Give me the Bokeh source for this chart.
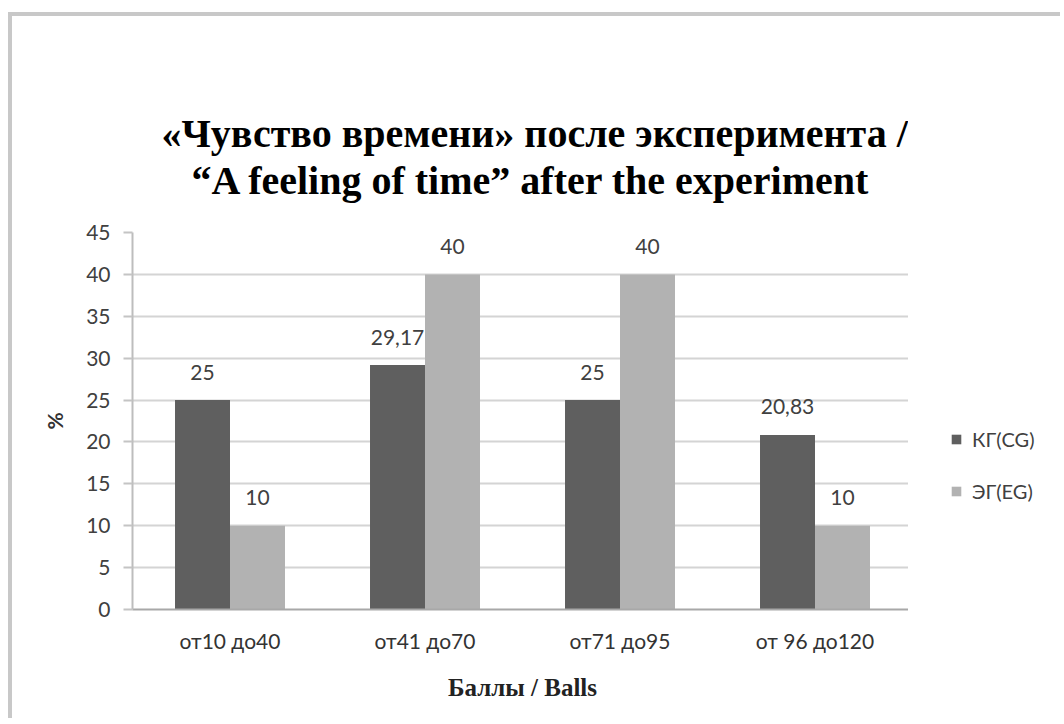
from bokeh.plotting import figure
from bokeh.layouts import row
from bokeh.models import FactorRange, FixedTicker, Legend, LegendItem, ColumnDataSource, Title, Range1d
from bokeh.transform import dodge
from bokeh.core.properties import value
from bokeh.embed import file_html
from bokeh.resources import INLINE

categories = ["от10 до40", "от41 до70", "от71 до95", "от 96 до120"]
cg_values = [25, 29.17, 25, 20.83]
eg_values = [10, 40, 40, 10]
cg_labels = ["25", "29,17", "25", "20,83"]
eg_labels = ["10", "40", "40", "10"]
y_ticks = [0, 5, 10, 15, 20, 25, 30, 35, 40, 45]
series_names = ["КГ(CG)", "ЭГ(EG)"]
title_lines = ["«Чувство времени» после эксперимента /",
               "“A feeling of time” after the experiment"]

src = ColumnDataSource(dict(cat=categories, cg=cg_values, eg=eg_values,
                            cgl=cg_labels, egl=eg_labels))

dark = "#5f5f5f"
light = "#b2b2b2"
border_css = "4px solid #c8c8c8"

H = 706
p = figure(x_range=FactorRange(*categories), y_range=(0, 45),
           width=900, height=H, output_backend="svg", toolbar_location=None,
           min_border_left=120, min_border_right=0, min_border_top=216,
           min_border_bottom=113)
p.styles = {"border-left": border_css, "border-top": border_css}
p.outline_line_color = None
p.background_fill_color = "white"
p.border_fill_color = "white"

bw = 0.282
r1 = p.vbar(x=dodge("cat", -bw / 2, range=p.x_range), top="cg", width=bw,
            source=src, fill_color=dark, line_color=None)
r2 = p.vbar(x=dodge("cat", bw / 2, range=p.x_range), top="eg", width=bw,
            source=src, fill_color=light, line_color=None)

lbl_kw = dict(source=src, text_font=value("Lato"), text_font_size="21px",
              text_color="#404040", text_align="center", text_baseline="middle",
              y_offset=-28)
p.text(x=dodge("cat", -bw / 2, range=p.x_range), y="cg", text="cgl", **lbl_kw)
p.text(x=dodge("cat", bw / 2, range=p.x_range), y="eg", text="egl", **lbl_kw)

# second line indented (non-breaking spaces) so the two lines sit centred on each other
p.title = Title(text=title_lines[0] + "\n" + "\u00a0\u00a0\u00a0" + title_lines[1],
                align="left", offset=29, text_font="Liberation Serif", text_font_style="bold",
                text_font_size="40px", text_color="black", standoff=59,
                text_line_height=1.05)

p.yaxis.ticker = FixedTicker(ticks=y_ticks)
p.yaxis.major_tick_out = 9
p.yaxis.major_tick_in = 0
p.yaxis.minor_tick_line_color = None
p.yaxis.major_tick_line_color = "#c4c4c4"
p.yaxis.major_tick_line_width = 2
p.yaxis.axis_line_color = "#bdbdbd"
p.yaxis.axis_line_width = 2
p.yaxis.major_label_text_font = "Lato"
p.yaxis.major_label_text_font_size = "21px"
p.yaxis.major_label_text_color = "#404040"
p.yaxis.major_label_standoff = 13
p.yaxis.axis_label = "%"
p.yaxis.axis_label_text_font = "Lato"
p.yaxis.axis_label_text_font_style = "bold"
p.yaxis.axis_label_text_font_size = "21px"
p.yaxis.axis_label_text_color = "#333333"
p.yaxis.axis_label_standoff = 16

p.xaxis.axis_line_color = "#a8a8a8"
p.xaxis.axis_line_width = 2
p.xaxis.major_tick_line_color = None
p.xaxis.minor_tick_line_color = None
p.xaxis.major_label_text_font = "Lato"
p.xaxis.major_label_text_font_size = "21px"
p.xaxis.major_label_text_color = "#333333"
p.xaxis.major_label_standoff = 12
p.xaxis.axis_label = "Баллы / Balls"
p.xaxis.axis_label_text_font = "Liberation Serif"
p.xaxis.axis_label_text_font_style = "bold"
p.xaxis.axis_label_text_font_size = "25px"
p.xaxis.axis_label_text_color = "#222222"
p.xaxis.axis_label_standoff = 18

p.xgrid.grid_line_color = None
p.ygrid.ticker = FixedTicker(ticks=y_ticks)
p.ygrid.grid_line_color = "#d4d4d4"
p.ygrid.grid_line_width = 2

# Legend lives in a narrow side canvas to the right of the plot area
p2 = figure(width=152, height=H, output_backend="svg", toolbar_location=None,
            x_range=Range1d(0, 1), y_range=Range1d(0, 1),
            x_axis_location=None, y_axis_location=None,
            min_border_left=0, min_border_right=0, min_border_top=0, min_border_bottom=0)
p2.styles = {"border-top": border_css}
p2.outline_line_color = None
p2.grid.visible = False
p2.background_fill_color = "white"
p2.border_fill_color = "white"
# legend proxies: same data, lying outside this canvas' visible range
k1 = p2.vbar(x="cg", top="cg", width=0.1, source=src, fill_color=dark, line_color=None)
k2 = p2.vbar(x="eg", top="eg", width=0.1, source=src, fill_color=light, line_color=None)

legend = Legend(items=[LegendItem(label=series_names[0], renderers=[k1]),
                       LegendItem(label=series_names[1], renderers=[k2])],
                location=(42, 106), border_line_color=None,
                background_fill_alpha=0, padding=0, margin=0,
                glyph_width=12, glyph_height=12, label_height=22,
                spacing=28, label_standoff=10,
                label_text_font="Lato", label_text_font_size="20px",
                label_text_color="#404040")
p2.add_layout(legend, "center")

layout = row(p, p2, spacing=0)
layout.styles = {"margin-left": "8px", "margin-top": "12px"}
open("out.html", "w").write(file_html(layout, INLINE))
